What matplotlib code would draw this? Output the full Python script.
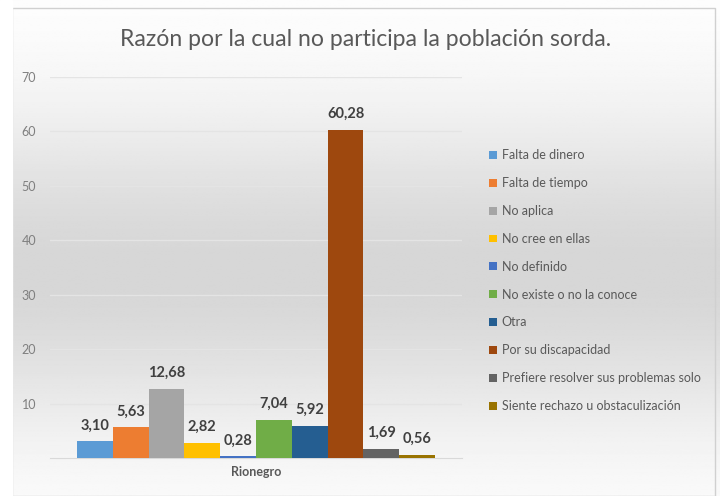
import numpy as np
import matplotlib
matplotlib.use('Agg')
import matplotlib.pyplot as plt
from matplotlib.patches import Patch, Rectangle

plt.rcParams['font.family'] = ['Lato', 'DejaVu Sans']

title = 'Razón por la cual no participa la población sorda.'
category = 'Rionegro'
reasons = ['Falta de dinero', 'Falta de tiempo', 'No aplica', 'No cree en ellas',
           'No definido', 'No existe o no la conoce', 'Otra', 'Por su discapacidad',
           'Prefiere resolver sus problemas solo', 'Siente rechazo u obstaculización']
values = [3.10, 5.63, 12.68, 2.82, 0.28, 7.04, 5.92, 60.28, 1.69, 0.56]
colors = ['#5B9BD5', '#ED7D31', '#A5A5A5', '#FFC000', '#4472C4',
          '#70AD47', '#255E91', '#9E480E', '#636363', '#997300']
yticks = [10, 20, 30, 40, 50, 60, 70]

fig = plt.figure(figsize=(7.2, 4.96), dpi=100)

# background: white -> light gray -> white, inside a thin frame
bg = fig.add_axes([0, 0, 1, 1], zorder=-10)
t = np.linspace(0, 1, 300)
shade = 1 - 0.16 * np.exp(-((t - 0.45) / 0.32) ** 2)
bg.imshow(np.tile(shade[:, None], (1, 2)), cmap='gray', vmin=0, vmax=1,
          aspect='auto', extent=[0, 1, 0, 1], origin='lower')
bg.add_patch(Rectangle((12 / 720, 0), (715 - 12) / 720, (496 - 8) / 496,
                       fill=False, edgecolor='#D0D0D0', lw=1))
bg.add_patch(Rectangle((0, 0), 12 / 720, 1, color='white'))
bg.set_xlim(0, 1)
bg.set_ylim(0, 1)
bg.axis('off')

ax = fig.add_axes([50 / 720, 1 - 458 / 496, 412 / 720, 381 / 496])
ax.patch.set_alpha(0)

n = len(values)
x = np.arange(n) - (n - 1) / 2
ax.bar(x, values, width=1.0, color=colors, zorder=3)
for xi, v in zip(x, values):
    ax.text(xi, v + 1.6, f'{v:.2f}'.replace('.', ','), ha='center', va='bottom',
            fontsize=10.5, fontweight='bold', color='#404040', zorder=4)

half = 5 * 412 / 358
ax.set_xlim(-half, half)
ax.set_ylim(0, 70)
ax.set_yticks(yticks)
ax.set_xticks([0])
ax.set_xticklabels([category], fontsize=9, color='#595959', fontweight='bold')
ax.tick_params(axis='both', length=0, colors='#7F7F7F', labelsize=9)
ax.tick_params(axis='x', pad=6, labelcolor='#595959')
ax.tick_params(axis='y', pad=10)
ax.grid(axis='y', color='#E4E4E4', lw=1, zorder=0)
for s in ['top', 'right', 'left']:
    ax.spines[s].set_visible(False)
ax.spines['bottom'].set_color('#D9D9D9')

fig.text(366 / 720, 1 - 40 / 496, title, ha='center', va='center',
         fontsize=16.6, color='#595959')

handles = [Patch(facecolor=c, edgecolor='none') for c in colors]
fig.legend(handles, reasons, loc='upper left', bbox_to_anchor=(478 / 720, 1 - 138 / 496),
           frameon=False, fontsize=9, labelcolor='#595959', handlelength=0.6,
           handleheight=0.6, handletextpad=0.4, labelspacing=1.27)

fig.savefig('out.png', dpi=100)
